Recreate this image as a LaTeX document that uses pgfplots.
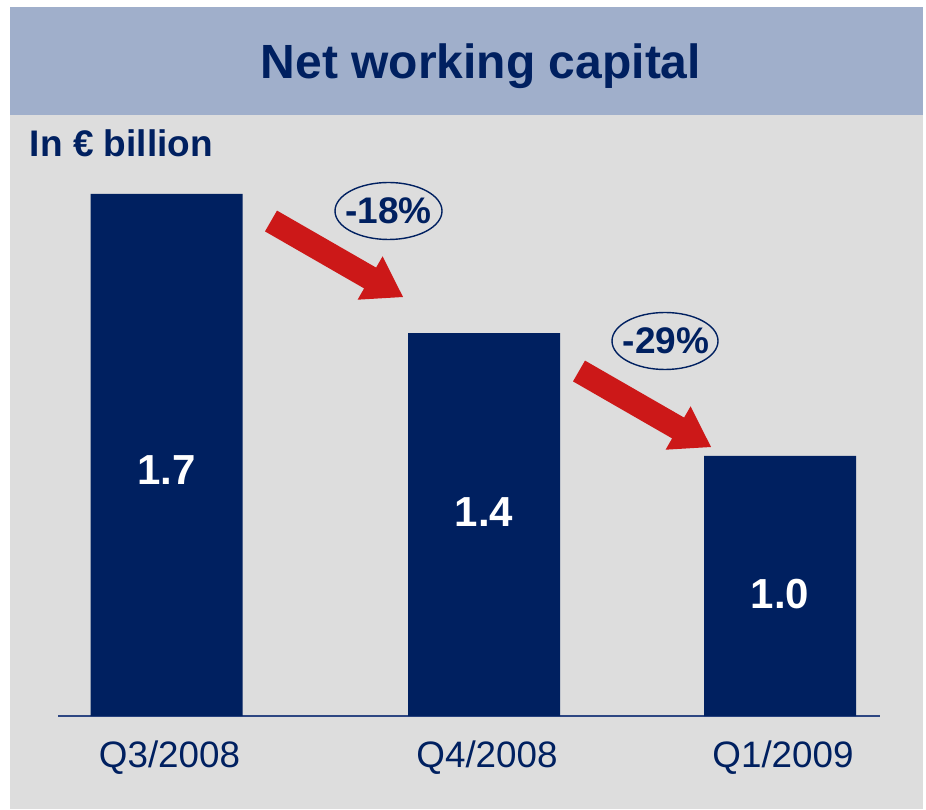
\documentclass[border=0pt]{standalone}
\usepackage{pgfplots}
\pgfplotsset{compat=1.18}
\usepackage{fontspec}
\setmainfont{Liberation Sans}
\definecolor{navy}{RGB}{0,32,96}
\definecolor{bandblue}{RGB}{160,175,203}
\definecolor{bggrey}{RGB}{221,221,221}
\definecolor{arrowred}{RGB}{204,24,24}
\definecolor{axisblue}{RGB}{45,70,130}
\begin{document}
\begin{tikzpicture}[x=0.5pt,y=0.5pt]
\fill[white] (0,0) rectangle (926,809);
\fill[bggrey] (10,0) rectangle (923,802);
\fill[bandblue] (10,694) rectangle (923,802);
\node[anchor=base, inner sep=0, font=\bfseries\fontsize{24}{28}\selectfont, text=navy] at (481,730) {Net working capital};
\node[anchor=base west, inner sep=0, font=\bfseries\fontsize{18.5}{22}\selectfont, text=navy] at (29.5,652) {In € billion};
\begin{axis}[
  at={(29pt,46.5pt)}, anchor=south west,
  scale only axis, width=411pt, height=268.7pt,
  xmin=58, xmax=880, ymin=0, ymax=1.75,
  axis x line*=bottom, axis y line=none,
  x axis line style={draw=axisblue, line width=1pt, -},
  xtick={166.5,484,780}, xticklabels={Q3/2008,Q4/2008,Q1/2009},
  ytick=\empty, major tick length=0pt,
  xticklabel style={anchor=base, yshift=-25.5pt, xshift=1.5pt, font=\fontsize{18.4}{22}\selectfont, text=navy},
  ybar, bar width=76pt, clip=false,
]
\addplot[fill=navy, draw=none] coordinates {(166.5,1.7) (484,1.247) (780,0.847)};
\node[text=white, font=\bfseries\fontsize{21}{24}\selectfont] at (axis cs:166.5,0.801) {1.7};
\node[text=white, font=\bfseries\fontsize{21}{24}\selectfont] at (axis cs:484,0.664) {1.4};
\node[text=white, font=\bfseries\fontsize{21}{24}\selectfont] at (axis cs:780,0.397) {1.0};
\end{axis}
\foreach \dx/\dy in {0/0, 308/-150}{
  \fill[arrowred, shift={(\dx*0.5pt,\dy*0.5pt)}] (277,598.4) -- (376.1,541.4) -- (382.6,552.7) -- (403,512) -- (357.6,509.3) -- (364.1,520.6) -- (265,577.6) -- cycle;
}
\draw[navy, line width=0.7pt] (388.5,598) ellipse [x radius=53.5, y radius=28.5];
\draw[navy, line width=0.7pt] (665,468) ellipse [x radius=53, y radius=28.5];
\node[text=navy, font=\bfseries\fontsize{18.5}{22}\selectfont] at (388.5,598) {-18\%};
\node[text=navy, font=\bfseries\fontsize{18.5}{22}\selectfont] at (666,468) {-29\%};
\end{tikzpicture}
\end{document}
